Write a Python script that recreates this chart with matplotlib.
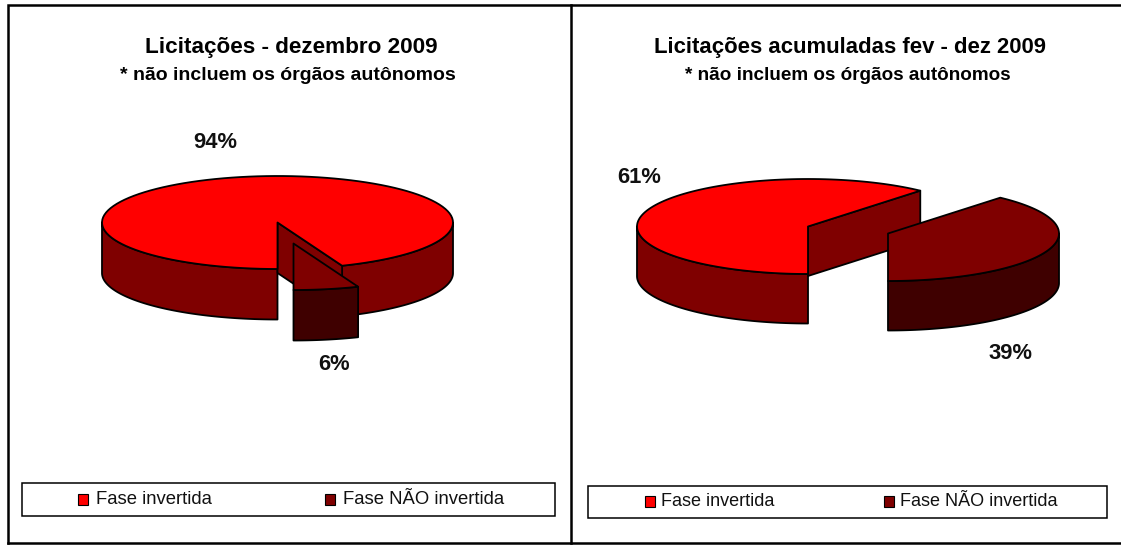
import numpy as np
import matplotlib
matplotlib.use("Agg")
import matplotlib.pyplot as plt
from matplotlib.patches import Polygon, Rectangle

plt.rcParams['font.family'] = ['Liberation Sans', 'DejaVu Sans']

categories = ["Fase invertida", "Fase NÃO invertida"]
dez_values = [94, 6]
acum_values = [61.4, 38.6]
dez_labels = ["94%", "6%"]
acum_labels = ["61%", "39%"]
dez_title = "Licitações - dezembro 2009"
acum_title = "Licitações acumuladas fev - dez 2009"
subtitle = "* não incluem os órgãos autônomos"

RED, MID, DARK = "#ff0000", "#7f0000", "#3f0000"
LW = 1.3

fig = plt.figure(figsize=(11.21, 5.45), dpi=100)
ax = fig.add_axes([0, 0, 1, 1])
ax.set_xlim(0, 1121)
ax.set_ylim(545, 0)
ax.axis("off")


def arc(cx, cy, rx, ry, a0, a1, n=120):
    t = np.radians(np.linspace(a0, a1, n))
    return np.column_stack([cx + rx * np.cos(t), cy - ry * np.sin(t)])


def poly(pts, color, z):
    ax.add_patch(Polygon(pts, closed=True, fc=color, ec="black", lw=LW, joinstyle="round", zorder=z))


def wall(cx, cy, rx, ry, depth, a0, a1, color, z):
    top = arc(cx, cy, rx, ry, a0, a1)
    bottom = top[::-1] + [0, depth]
    poly(np.vstack([top, bottom]), color, z)


def pie3d(values, cx, cy, rx, ry, depth, off):
    # first slice runs clockwise from straight down, second slice is pulled out
    end = 270.0
    ang = 360.0 * values[0] / sum(values)
    start = end - ang                     # angle where the first slice begins
    if start < -90:
        start += 360
    z = 2
    # main slice: outer walls visible only on the lower half
    wall(cx, cy, rx, ry, depth, 180, 270, MID, z)
    if start < 0:
        wall(cx, cy, rx, ry, depth, start, 0, MID, z)
    # cut wall of the main slice
    p = arc(cx, cy, rx, ry, start, start, 1)[0]
    poly([(cx, cy), p, p + [0, depth], (cx, cy + depth)], MID, z + 1)
    # main top
    poly(np.vstack([[(cx, cy)], arc(cx, cy, rx, ry, start, end)]), RED, z + 2)
    # exploded slice
    ex, ey = cx + off[0], cy + off[1]
    wall(ex, ey, rx, ry, depth, -90, min(0, start), DARK, z + 3)
    poly(np.vstack([[(ex, ey)], arc(ex, ey, rx, ry, -90, start)]), MID, z + 4)


pie3d(dez_values, 277.5, 222.5, 175.5, 46.5, 50.5, (16, 21))
pie3d(acum_values, 808, 226.5, 171, 47.5, 49.5, (80, 7))

# frame
ax.plot([8, 8, 1121], [543, 5, 5], color="black", lw=1.8, zorder=6, solid_joinstyle="miter")
ax.plot([8, 1121], [543, 543], color="black", lw=1.8, zorder=6)
ax.plot([570.5, 570.5], [5, 543], color="black", lw=1.8, zorder=6)

# titles
T = dict(ha="center", va="center", fontweight="bold", color="black", zorder=7)
ax.text(291, 47, dez_title, fontsize=16.2, **T)
ax.text(288, 76, subtitle, fontsize=14.0, **T)
ax.text(849.5, 47, acum_title, fontsize=15.9, **T)
ax.text(848, 75, subtitle, fontsize=13.6, **T)

# data labels
L = dict(ha="center", va="center", fontweight="bold", color="#111111", fontsize=15.8, zorder=7)
ax.text(215.5, 142.5, dez_labels[0], **L)
ax.text(334, 364.5, dez_labels[1], **L)
ax.text(639.5, 177.5, acum_labels[0], **L)
ax.text(1011, 353.5, acum_labels[1], **L)


# legends
def legend(x0, y0, x1, y1, m1, t1, m2, t2, ym, fs):
    ax.add_patch(Rectangle((x0, y0), x1 - x0, y1 - y0, fc="white", ec="black", lw=1.1, zorder=6))
    for mx, tx, color, label in ((m1, t1, RED, categories[0]), (m2, t2, MID, categories[1])):
        ax.add_patch(Rectangle((mx, ym - 5), 10, 11, fc=color, ec="black", lw=0.8, zorder=7))
        ax.text(tx, ym, label, ha="left", va="center", fontsize=fs, color="#111111", zorder=7)


legend(22, 483, 555, 516, 78, 96, 325, 343, 499, 13.3)
legend(588, 486, 1107, 518, 645, 661, 884, 900, 501, 13.0)

fig.savefig("out.png", dpi=100)
